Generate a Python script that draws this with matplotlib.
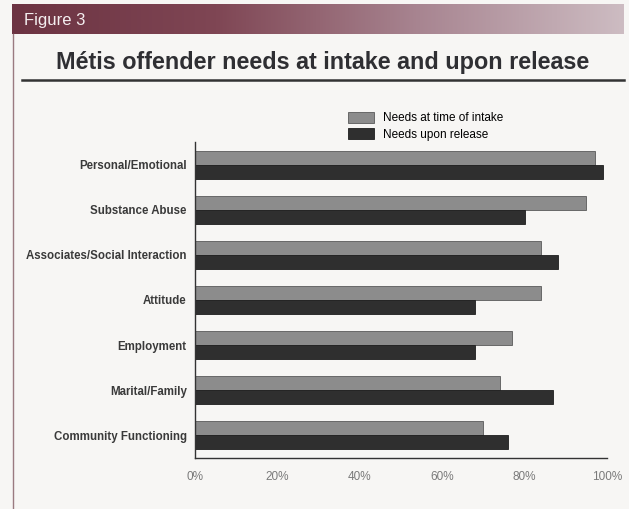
import matplotlib.pyplot as plt
import numpy as np
from matplotlib.colors import LinearSegmentedColormap

categories = ['Personal/Emotional', 'Substance Abuse', 'Associates/Social Interaction',
              'Attitude', 'Employment', 'Marital/Family', 'Community Functioning']
intake = [97, 95, 84, 84, 77, 74, 70]
release = [99, 80, 88, 68, 68, 87, 76]
xticks = [0, 20, 40, 60, 80, 100]
xticklabels = ['0%', '20%', '40%', '60%', '80%', '100%']

W, H = 629, 509
bg = '#f7f6f4'
fig = plt.figure(figsize=(W / 100, H / 100), dpi=100, facecolor=bg)

def box(x0, y0, x1, y1):
    # pixel box (top-left origin) -> figure fraction rect
    return [x0 / W, 1 - y1 / H, (x1 - x0) / W, (y1 - y0) / H]

# banner with maroon fade
bax = fig.add_axes(box(12, 4, 623, 34))
grad = np.linspace(0, 1, 256).reshape(1, -1)
cmap = LinearSegmentedColormap.from_list('banner', ['#6c3342', '#7f4654', '#a88591', '#cdbcc2'])
bax.imshow(grad, aspect='auto', cmap=cmap, extent=[0, 1, 0, 1])
bax.set_axis_off()
bax.text(0.02, 0.45, 'Figure 3', color='#f4eef0', fontsize=12, va='center', ha='left',
         family='Liberation Sans', transform=bax.transAxes)

# title and rule
fig.text(323 / W, 1 - 63 / H, 'Métis offender needs at intake and upon release',
         ha='center', va='center', fontsize=16.8, fontweight='bold', color='#2f2f33',
         family='Liberation Sans')
fig.add_artist(plt.Line2D([22 / W, 624 / W], [1 - 80 / H, 1 - 80 / H],
                          color='#333333', lw=1.8, transform=fig.transFigure))
fig.add_artist(plt.Line2D([13 / W, 13 / W], [1 - 34 / H, 0],
                          color='#9a7a80', lw=1.0, transform=fig.transFigure))

ax = fig.add_axes(box(195, 142, 607, 458))
ax.set_facecolor(bg)
y = np.arange(len(categories))
h = 0.31
ax.barh(y - h / 2, intake, height=h, color='#8c8c8c', edgecolor='#5a5a5a', lw=0.6,
        label='Needs at time of intake')
ax.barh(y + h / 2, release, height=h, color='#2f2f2f', edgecolor='#1e1e1e', lw=0.6,
        label='Needs upon release')
ax.set_ylim(len(categories) - 0.5, -0.5)
ax.set_xlim(0, 100)
ax.set_yticks(y)
ax.set_yticklabels(categories, fontsize=8.3, fontweight='bold', color='#3a3a3a',
                   family='Liberation Sans')
ax.set_xticks(xticks)
ax.set_xticklabels(xticklabels, fontsize=8.5, color='#7a7a7a', family='Liberation Sans')
ax.tick_params(length=0)
ax.tick_params(axis='x', pad=9)
ax.tick_params(axis='y', pad=6)
for s in ['top', 'right']:
    ax.spines[s].set_visible(False)
for s in ['left', 'bottom']:
    ax.spines[s].set_color('#333333')
    ax.spines[s].set_linewidth(1.0)

fig.legend(loc='upper left', bbox_to_anchor=(337 / W, 1 - 101 / H), frameon=False,
           handlelength=2.2, handleheight=1.1, labelspacing=0.3,
           handletextpad=0.8, prop={'family': 'Liberation Sans', 'size': 8.5})

fig.savefig('out.png', dpi=100, facecolor=bg)
